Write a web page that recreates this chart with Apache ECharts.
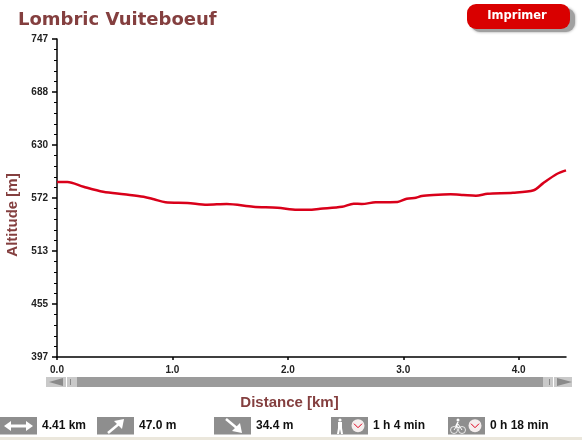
<!DOCTYPE html>
<html>
<head>
<meta charset="utf-8">
<title>Lombric Vuiteboeuf</title>
<script src="https://cdn.jsdelivr.net/npm/echarts@6/dist/echarts.min.js"></script>
<style>
  html, body { margin: 0; padding: 0; background: #fff; }
  #chart { width: 582px; height: 440px; }
</style>
</head>
<body>
<div id="chart"></div>
<script>
// profil
const distances = [0, 0.09, 0.23, 0.40, 0.58, 0.75, 0.84, 0.94, 1.13, 1.30, 1.47, 1.70, 1.91, 2.08, 2.18, 2.28, 2.47, 2.57, 2.64, 2.76, 2.95, 3.03, 3.11, 3.16, 3.26, 3.41, 3.52, 3.63, 3.73, 3.95, 4.13, 4.21, 4.33, 4.41];
const altitudes = [589.6, 589.6, 584.4, 578.9, 576.1, 573.4, 570.6, 567.3, 566.5, 564.6, 565.4, 562.4, 561.3, 559.1, 559.0, 560.2, 562.4, 565.7, 565.4, 567.3, 567.6, 571.2, 572.3, 574.2, 575.3, 576.0, 575.3, 574.5, 576.7, 577.8, 580.5, 588.1, 598.4, 602.4];
const yTickLabels = ['397', '455', '513', '572', '630', '688', '747'];
const xTicks = [0, 1, 2, 3, 4];
const stats = ['4.41 km', '47.0 m', '34.4 m', '1 h 4 min', '0 h 18 min'];
const statBoxX = [0, 97, 214, 331, 448];

const RED = '#d9001a', BROWN = '#843f3f', GREY = '#8e8e8e';
const sans = '"Liberation Sans", Arial, sans-serif';

const chart = echarts.init(document.getElementById('chart'), null, { renderer: 'canvas' });

// ── décor : bouton, barre de défilement, pictos ──
const clock = (cx, cy) => [
  { type: 'circle', shape: { cx, cy, r: 6.5 }, style: { fill: '#f4eeee' } },
  { type: 'polyline', shape: { points: [[cx - 4, cy - 2], [cx, cy + 2], [cx + 4, cy - 2]] }, style: { stroke: '#e0001c', lineWidth: 1, fill: null } }
];
const arrowStyle = { stroke: '#fff', lineWidth: 2.5, fill: null };
const deco = [
  // bouton Imprimer
  { type: 'rect', shape: { x: 471, y: 8, width: 104, height: 24, r: 9 }, style: { fill: '#a0a0a0', shadowBlur: 3, shadowColor: '#999' } },
  { type: 'rect', shape: { x: 467, y: 4, width: 103, height: 25, r: 9 }, style: { fill: '#d90000' } },
  { type: 'text', style: { x: 517, y: 16, text: 'Imprimer', fill: '#fff', font: 'bold 11.5px "DejaVu Sans"', align: 'center', verticalAlign: 'middle' } },
  // barre de défilement
  { type: 'rect', shape: { x: 46, y: 377, width: 526, height: 10 }, style: { fill: '#c9c9c9' } },
  { type: 'rect', shape: { x: 77, y: 377, width: 466, height: 10 }, style: { fill: '#9b9b9b' } },
  { type: 'polygon', shape: { points: [[49, 382], [63, 378], [63, 386]] }, style: { fill: '#8a8a8a' } },
  { type: 'polygon', shape: { points: [[572, 382], [557, 378], [557, 386]] }, style: { fill: '#8a8a8a' } },
  { type: 'rect', shape: { x: 66, y: 377, width: 1, height: 10 }, style: { fill: '#fff' } },
  { type: 'rect', shape: { x: 70, y: 379, width: 1, height: 6 }, style: { fill: '#8a8a8a' } },
  { type: 'rect', shape: { x: 553, y: 377, width: 1, height: 10 }, style: { fill: '#fff' } },
  { type: 'rect', shape: { x: 549, y: 379, width: 1, height: 6 }, style: { fill: '#8a8a8a' } },
  // bande du bas
  { type: 'rect', shape: { x: 0, y: 437, width: 582, height: 3 }, style: { fill: '#ebe7dc' } }
];
statBoxX.forEach((x, i) => {
  deco.push({ type: 'rect', shape: { x, y: 417, width: 37, height: 17.5 }, style: { fill: GREY } });
  deco.push({ type: 'text', style: { x: x + 42, y: 426, text: stats[i], fill: '#111', font: 'bold 12px ' + sans, verticalAlign: 'middle' } });
});
// double flèche
deco.push({ type: 'polyline', shape: { points: [[8, 426], [28, 426]] }, style: { stroke: '#fff', lineWidth: 3 } });
deco.push({ type: 'polygon', shape: { points: [[4, 426], [11, 421], [11, 431]] }, style: { fill: '#fff' } });
deco.push({ type: 'polygon', shape: { points: [[33, 426], [26, 421], [26, 431]] }, style: { fill: '#fff' } });
// montée
deco.push({ type: 'polyline', shape: { points: [[108, 433], [120, 423]] }, style: arrowStyle });
deco.push({ type: 'polygon', shape: { points: [[124, 419], [114, 421], [122, 429]] }, style: { fill: '#fff' } });
// descente
deco.push({ type: 'polyline', shape: { points: [[226, 419], [238, 429]] }, style: arrowStyle });
deco.push({ type: 'polygon', shape: { points: [[242, 433], [232, 431], [240, 423]] }, style: { fill: '#fff' } });
// marcheur
deco.push({ type: 'circle', shape: { cx: 340, cy: 420, r: 1.6 }, style: { fill: '#fff' } });
deco.push({ type: 'polygon', shape: { points: [[338, 422], [342, 422], [342, 428], [343, 434], [341, 434], [340, 429], [339, 434], [337, 434], [338, 428]] }, style: { fill: '#fff' } });
deco.push(...clock(358, 425.7));
// vélo
deco.push({ type: 'circle', shape: { cx: 454, cy: 430, r: 3.5 }, style: { fill: null, stroke: '#fff', lineWidth: 0.8 } });
deco.push({ type: 'circle', shape: { cx: 462, cy: 430, r: 3.5 }, style: { fill: null, stroke: '#fff', lineWidth: 0.8 } });
deco.push({ type: 'polyline', shape: { points: [[454, 430], [458, 424], [462, 430]] }, style: { stroke: '#fff', lineWidth: 1, fill: null } });
deco.push({ type: 'polyline', shape: { points: [[458, 422], [456, 426], [459, 428]] }, style: { stroke: '#fff', lineWidth: 1.5, fill: null } });
deco.push({ type: 'circle', shape: { cx: 458, cy: 420, r: 1.5 }, style: { fill: '#fff' } });
deco.push(...clock(475, 425.7));

chart.setOption({
  animation: false,
  title: {
    text: 'Lombric Vuiteboeuf', left: 18, top: 11, padding: 0,
    textStyle: { color: BROWN, fontFamily: '"DejaVu Sans"', fontWeight: 'bold', fontSize: 18 }
  },
  grid: { left: 57, right: 16, top: 39, bottom: 83, outerBoundsMode: 'none' },
  xAxis: {
    type: 'value', min: 0, max: 4.41, interval: 1,
    name: 'Distance [km]', nameLocation: 'middle', nameGap: 38,
    nameTextStyle: { color: BROWN, fontFamily: sans, fontWeight: 'bold', fontSize: 15, padding: [0, 44, 0, 0] },
    axisLine: { lineStyle: { color: '#000', width: 1.5 } },
    axisTick: { length: 3, lineStyle: { color: '#000', width: 1.5 }, customValues: xTicks },
    axisLabel: { color: '#222', fontFamily: sans, fontWeight: 'bold', fontSize: 10, margin: 8, customValues: xTicks, formatter: v => v.toFixed(1) },
    splitLine: { show: false }
  },
  yAxis: {
    type: 'value', min: 397, max: 747, interval: 350 / 6,
    name: 'Altitude [m]', nameLocation: 'middle', nameGap: 37,
    nameTextStyle: { color: BROWN, fontFamily: sans, fontWeight: 'bold', fontSize: 15, padding: [0, 34, 0, 0] },
    axisLine: { show: true, lineStyle: { color: '#000', width: 1.5 } },
    axisTick: { length: 5, lineStyle: { color: '#000', width: 1.5 } },
    minorTick: { show: true, splitNumber: 5, length: 3, lineStyle: { color: '#000', width: 1 } },
    axisLabel: { color: '#222', fontFamily: sans, fontWeight: 'bold', fontSize: 10, margin: 9, padding: [5, 0, 0, 0], formatter: (v, i) => yTickLabels[i] },
    splitLine: { show: false }
  },
  series: [{
    type: 'line', data: distances.map((d, i) => [d, altitudes[i]]),
    showSymbol: false, smooth: 0.3,
    lineStyle: { color: RED, width: 2.5 }
  }],
  graphic: deco
});
</script>
</body>
</html>
